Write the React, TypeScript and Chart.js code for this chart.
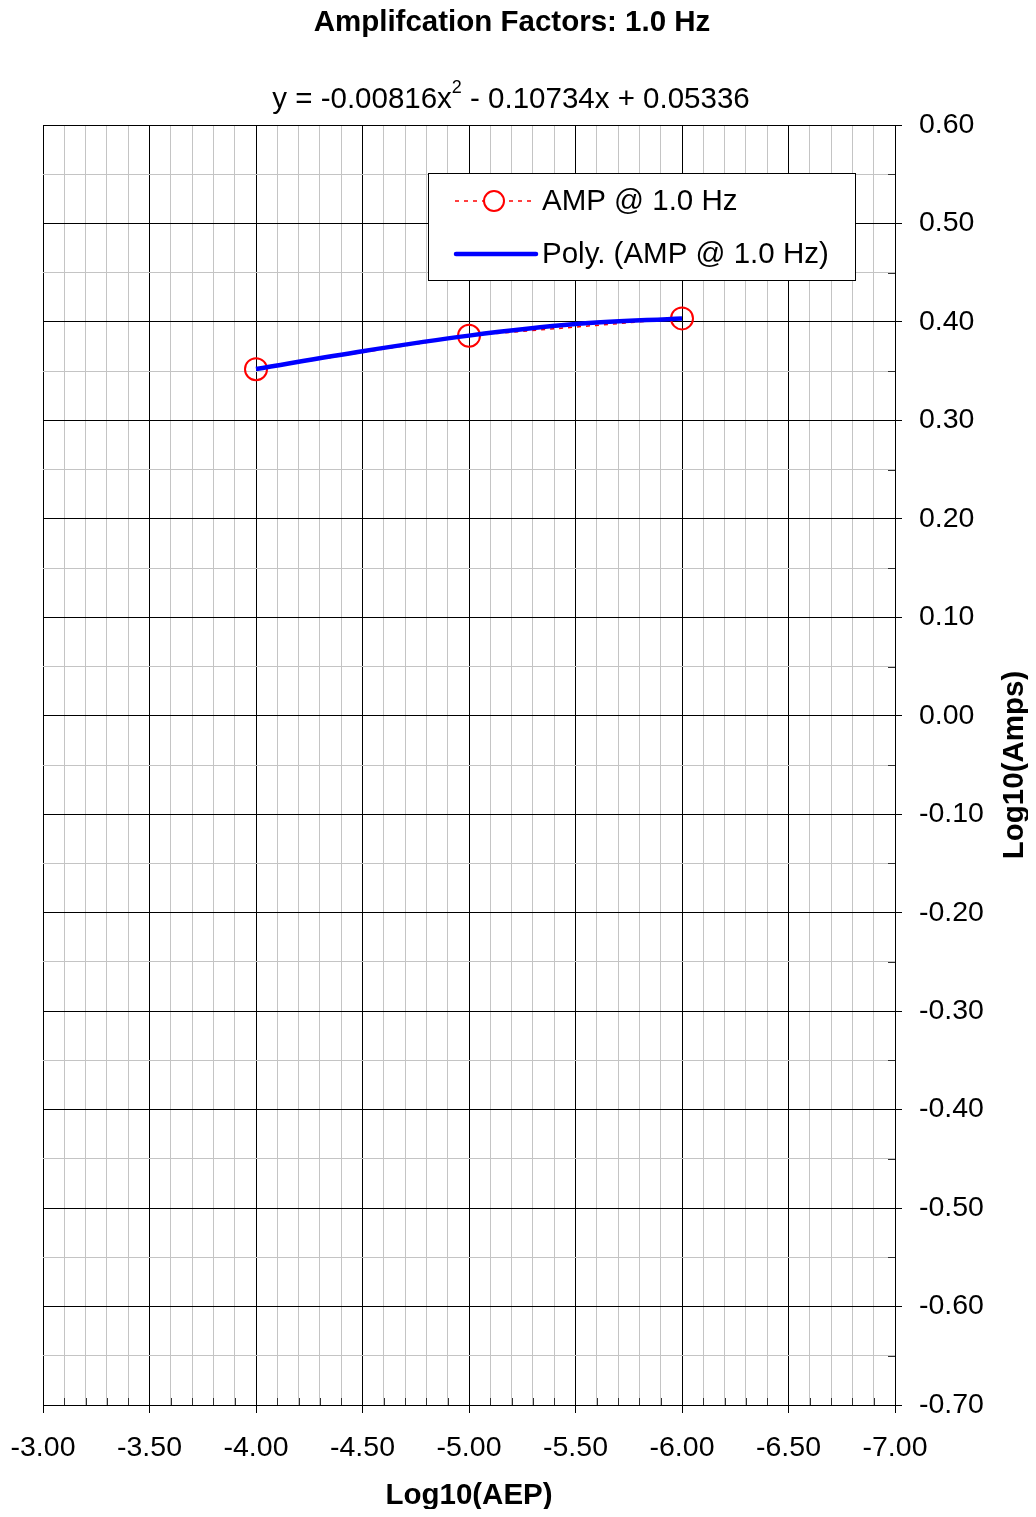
import React, { useEffect, useRef } from "react";
import { Chart, registerables } from "chart.js";

Chart.register(...registerables);

const chartTitle = "Amplifcation Factors: 1.0 Hz";
const eqMain = "y = -0.00816x";
const eqSup = "2";
const eqRest = " - 0.10734x + 0.05336";
const xTitle = "Log10(AEP)";
const yTitle = "Log10(Amps)";
const seriesName = "AMP @ 1.0 Hz";
const trendName = "Poly. (AMP @ 1.0 Hz)";

const aepLog = [-4, -5, -6];
const ampLog = [0.352, 0.386, 0.4036];
const trendX = [-4, -4.5, -5, -5.5, -6];
const trendY = [0.3522, 0.3703, 0.3861, 0.3978, 0.4036];

const xMin = -7;
const xMax = -3;
const yMin = -0.7;
const yMax = 0.6;

const W = 1020;
const H = 1501;
const FONT = "'Liberation Sans', Arial, sans-serif";

const isMajor = (v: number, step: number) => Math.abs(v / step - Math.round(v / step)) < 1e-6;
const fmt = (v: number) => (Math.abs(v) < 1e-9 ? "0.00" : v.toFixed(2));

const decor = {
  id: "decor",
  afterDraw(chart: any) {
    const ctx = chart.ctx as CanvasRenderingContext2D;
    const a = chart.chartArea;
    const xs = chart.scales.x;
    const ys = chart.scales.y;
    ctx.save();
    // inward minor ticks
    ctx.strokeStyle = "#303030";
    ctx.lineWidth = 1;
    ctx.beginPath();
    xs.ticks.forEach((t: any) => {
      if (!isMajor(t.value, 0.5)) {
        const px = Math.round(xs.getPixelForValue(t.value)) + 0.5;
        ctx.moveTo(px, a.bottom);
        ctx.lineTo(px, a.bottom - 7);
      }
    });
    ys.ticks.forEach((t: any) => {
      if (!isMajor(t.value, 0.1)) {
        const py = Math.round(ys.getPixelForValue(t.value)) + 0.5;
        ctx.moveTo(a.right, py);
        ctx.lineTo(a.right - 7, py);
      }
    });
    ctx.stroke();

    // titles
    ctx.fillStyle = "#000";
    ctx.textBaseline = "middle";
    ctx.textAlign = "center";
    ctx.font = `bold 29.5px ${FONT}`;
    ctx.fillText(chartTitle, 504, 15);

    // equation with superscript
    ctx.font = `29.5px ${FONT}`;
    const w1 = ctx.measureText(eqMain).width;
    const w3 = ctx.measureText(eqRest).width;
    ctx.font = `18px ${FONT}`;
    const w2 = ctx.measureText(eqSup).width;
    const total = w1 + w2 + w3;
    const x0 = 503 - total / 2;
    ctx.textAlign = "left";
    ctx.font = `29.5px ${FONT}`;
    ctx.fillText(eqMain, x0, 92);
    ctx.font = `18px ${FONT}`;
    ctx.fillText(eqSup, x0 + w1, 80);
    ctx.font = `29.5px ${FONT}`;
    ctx.fillText(eqRest, x0 + w1 + w2, 92);

    // axis titles
    ctx.textAlign = "center";
    ctx.font = `bold 29.5px ${FONT}`;
    ctx.fillText(xTitle, (a.left + a.right) / 2, 1488);
    ctx.save();
    ctx.translate(1007, (a.top + a.bottom) / 2);
    ctx.rotate(-Math.PI / 2);
    ctx.fillText(yTitle, 0, 0);
    ctx.restore();

    // legend
    const lx = 420, ly = 165, lw = 427, lh = 107;
    ctx.fillStyle = "#fff";
    ctx.fillRect(lx, ly, lw, lh);
    ctx.strokeStyle = "#000";
    ctx.lineWidth = 1;
    ctx.strokeRect(lx + 0.5, ly + 0.5, lw, lh);
    // row 1
    ctx.strokeStyle = "#ff0000";
    ctx.lineWidth = 1.5;
    ctx.setLineDash([4, 5]);
    ctx.beginPath();
    ctx.moveTo(447, 193);
    ctx.lineTo(524, 193);
    ctx.stroke();
    ctx.setLineDash([]);
    ctx.lineWidth = 2;
    ctx.beginPath();
    ctx.arc(486, 193, 10, 0, Math.PI * 2);
    ctx.fillStyle = "#fff";
    ctx.fill();
    ctx.stroke();
    // row 2
    ctx.strokeStyle = "#0000ff";
    ctx.lineWidth = 4.5;
    ctx.lineCap = "round";
    ctx.beginPath();
    ctx.moveTo(448, 246);
    ctx.lineTo(528, 246);
    ctx.stroke();
    ctx.fillStyle = "#000";
    ctx.textAlign = "left";
    ctx.font = `29.5px ${FONT}`;
    ctx.fillText(seriesName, 534, 194);
    ctx.fillText(trendName, 534, 247);
    ctx.restore();
  },
};

export default function App() {
  const ref = useRef<HTMLCanvasElement>(null);
  useEffect(() => {
    if (!ref.current) return;
    const chart = new Chart(ref.current, {
      type: "scatter",
      data: {
        datasets: [
          {
            label: seriesName,
            data: aepLog.map((x, i) => ({ x, y: ampLog[i] })),
            showLine: true,
            borderColor: "#ff0000",
            borderWidth: 1.5,
            borderDash: [4, 5],
            pointRadius: 11,
            pointBorderWidth: 2,
            pointBorderColor: "#ff0000",
            pointBackgroundColor: "rgba(0,0,0,0)",
            order: 2,
          },
          {
            label: trendName,
            data: trendX.map((x, i) => ({ x, y: trendY[i] })),
            showLine: true,
            borderColor: "#0000ff",
            borderWidth: 4.5,
            pointRadius: 0,
            cubicInterpolationMode: "monotone",
            order: 1,
          },
        ],
      },
      options: {
        animation: false,
        responsive: false,
        devicePixelRatio: 1,
        layout: { padding: { top: 117, left: 35, right: 0, bottom: 0 } },
        plugins: { legend: { display: false }, tooltip: { enabled: false }, title: { display: false } },
        scales: {
          x: {
            type: "linear",
            min: xMin,
            max: xMax,
            reverse: true,
            afterFit: (s: any) => {
              s.height = 104;
              s.paddingLeft = 0;
              s.paddingRight = 0;
            },
            ticks: {
              stepSize: 0.1,
              autoSkip: false,
              maxRotation: 0,
              minRotation: 0,
              maxTicksLimit: 1000,
              padding: 18,
              color: "#000",
              font: { family: FONT, size: 28.5 },
              callback: (v: any) => (isMajor(Number(v), 0.5) ? fmt(Number(v)) : ""),
            },
            grid: {
              color: (c: any) => (c.tick && isMajor(c.tick.value, 0.5) ? "#000" : "#c4c4c4"),
              tickColor: (c: any) => (c.tick && isMajor(c.tick.value, 0.5) ? "#000" : "rgba(0,0,0,0)"),
              tickLength: 8,
              lineWidth: 1,
            },
            border: { color: "#000", width: 1 },
          },
          y: {
            type: "linear",
            position: "right",
            min: yMin,
            max: yMax,
            afterFit: (s: any) => {
              s.width = 133;
              s.paddingTop = 0;
              s.paddingBottom = 0;
            },
            ticks: {
              stepSize: 0.05,
              autoSkip: false,
              maxTicksLimit: 1000,
              padding: 17,
              color: "#000",
              font: { family: FONT, size: 28.5 },
              callback: (v: any) => (isMajor(Number(v), 0.1) ? fmt(Number(v)) : ""),
            },
            grid: {
              color: (c: any) => (c.tick && isMajor(c.tick.value, 0.1) ? "#000" : "#c4c4c4"),
              tickColor: (c: any) => (c.tick && isMajor(c.tick.value, 0.1) ? "#000" : "rgba(0,0,0,0)"),
              tickLength: 7,
              lineWidth: 1,
            },
            border: { color: "#000", width: 1 },
          },
        },
      } as any,
      plugins: [decor],
    });
    return () => chart.destroy();
  }, []);
  return (
    <div style={{ width: W, height: H }}>
      <canvas ref={ref} width={W} height={H} style={{ display: "block", width: W, height: H }} />
    </div>
  );
}
